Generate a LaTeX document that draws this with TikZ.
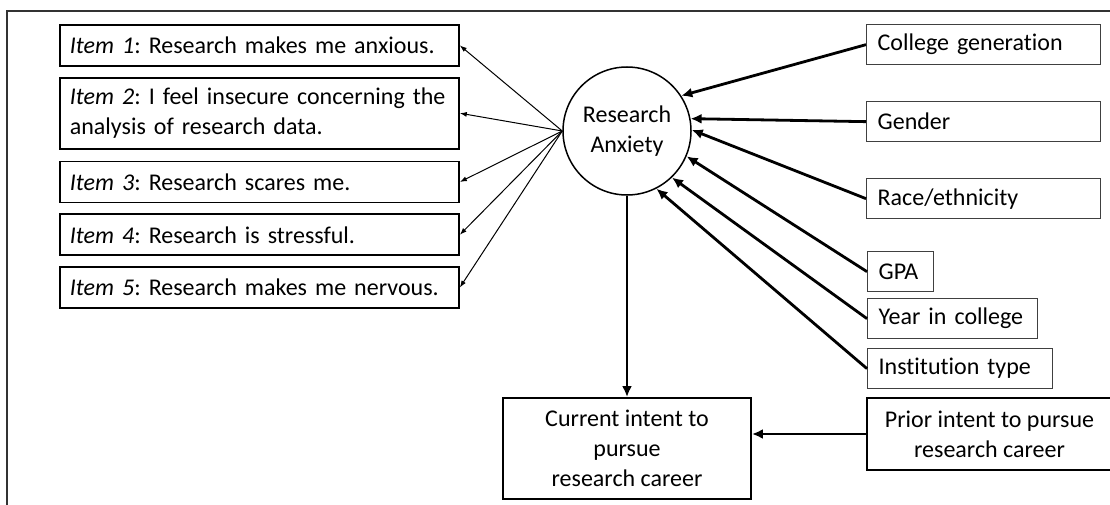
\documentclass[tikz,border=0pt]{standalone}
\usepackage{fontspec}
\setmainfont{Carlito}[Ligatures=CommonOff]
\usetikzlibrary{positioning, arrows.meta}
\frenchspacing

\begin{document}
\begin{tikzpicture}[
    x=1pt, y=-1pt,
    font=\fontsize{24}{30}\selectfont,
    node distance=10pt,
    itembox/.style={
        rectangle,
        draw=black,
        line width=1.8pt,
        inner xsep=10pt,
        text width=379pt,
        align=left,
        minimum height=41pt
    },
    factorbox/.style={
        rectangle,
        draw=black!75,
        line width=1.3pt,
        anchor=north west,
        inner xsep=11pt,
        text width=212pt,
        align=left,
        minimum height=40pt
    },
    intentbox/.style={
        rectangle,
        draw=black,
        line width=1.9pt,
        align=center
    },
    itemarrow/.style={
        -{Latex[length=7pt,width=5pt]},
        line width=1pt
    },
    factorarrow/.style={
        -{Latex[length=11pt,width=10pt]},
        line width=2.8pt
    }
]
\useasboundingbox (0,0) rectangle (1110,505);

% Rahmen
\draw[line width=1.2pt, black!80] (7,505) -- (7,11) -- (1110,11);

% Items
\node[itembox, anchor=north west] (item1) at (59,24) {\textit{Item 1}: Research makes me anxious.};
\node[itembox, below=of item1, minimum height=71pt] (item2) {\textit{Item 2}: I feel insecure concerning the\\analysis of research data.};
\node[itembox, below=11pt of item2] (item3) {\textit{Item 3}: Research scares me.};
\node[itembox, below=of item3] (item4) {\textit{Item 4}: Research is stressful.};
\node[itembox, below=of item4] (item5) {\textit{Item 5}: Research makes me nervous.};

% Latente Variable
\node[circle, draw, line width=1.5pt, minimum size=128pt, inner sep=0pt, align=center] (anxiety) at (627,131) {Research\\Anxiety};

% Einflussfaktoren
\node[factorbox] (college) at (866,24) {College generation};
\node[factorbox] (gender) at (866,101) {Gender};
\node[factorbox] (race) at (866,178) {Race/ethnicity};
\node[factorbox, text width=44pt] (gpa) at (867,251) {GPA};
\node[factorbox, text width=148pt] (year) at (867,298) {Year in college};
\node[factorbox, text width=163pt] (institution) at (867,348) {Institution type};

% Absicht
\node[intentbox, minimum width=248pt, minimum height=101pt] (current) at (627,448.5) {Current intent to\\pursue\\research career};
\node[intentbox, minimum width=245pt, minimum height=72pt] (prior) at (989.5,434) {Prior intent to pursue\\research career};

% Pfeile
\foreach \i in {1,...,5}
    \draw[itemarrow] (anxiety.west) -- (item\i.east);

\foreach \f/\a in {college/33, gender/11, race/1, gpa/-23, year/-46, institution/-63}
    \draw[factorarrow] (\f.west) -- (anxiety.\a);

\draw[factorarrow] (anxiety.south) -- (current.north);
\draw[factorarrow] (prior.west) -- (prior.west -| current.east);

\end{tikzpicture}
\end{document}
